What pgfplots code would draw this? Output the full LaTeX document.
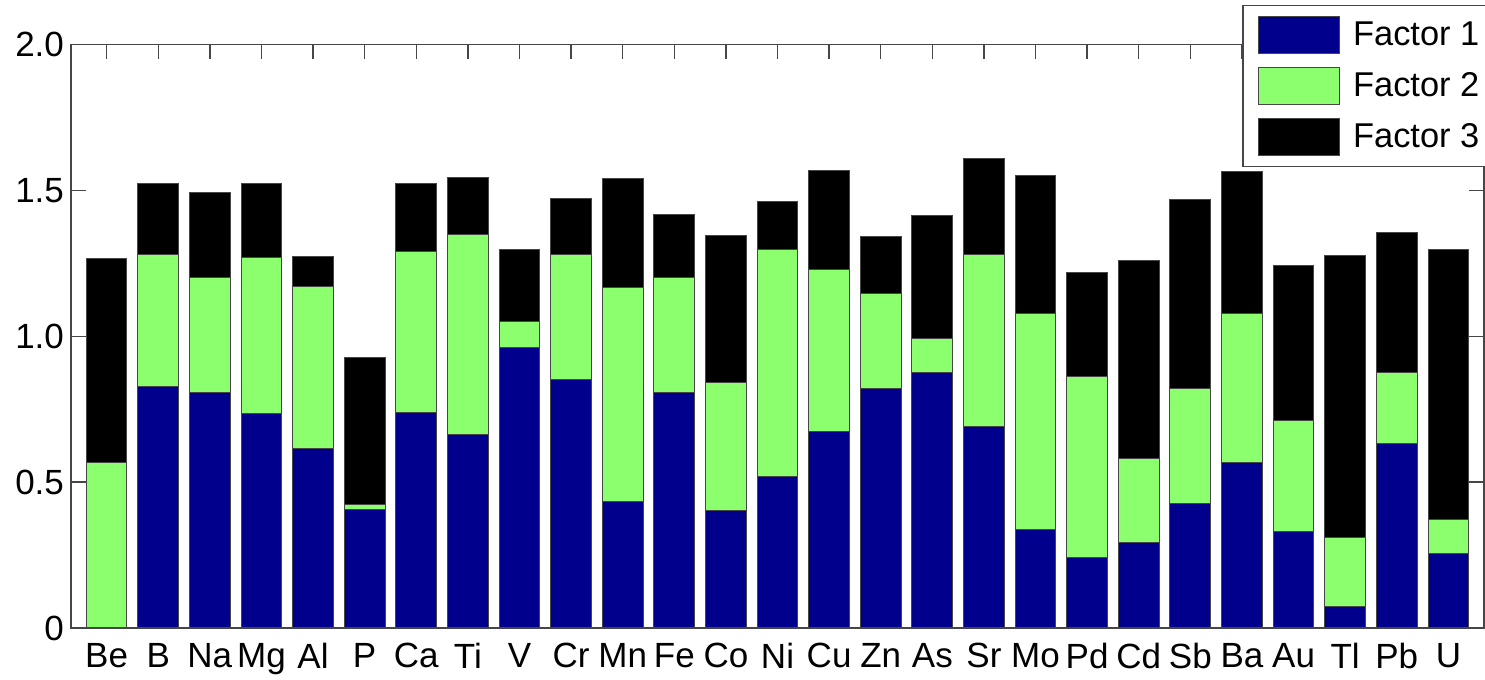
\documentclass[border=0pt]{standalone}
\usepackage{pgfplots}
\pgfplotsset{compat=1.18}
\usepackage{pgfplotstable}
\usepackage{fontspec}
\setmainfont{Liberation Sans}
\definecolor{fone}{RGB}{0,0,140}
\definecolor{ftwo}{RGB}{140,255,110}
\definecolor{axgray}{RGB}{70,70,70}

\pgfplotstableread{
x f1 f2 f3
0 0.000 0.566 0.700
1 0.829 0.450 0.243
2 0.807 0.393 0.292
3 0.734 0.535 0.253
4 0.614 0.555 0.104
5 0.406 0.016 0.504
6 0.740 0.551 0.234
7 0.663 0.685 0.197
8 0.963 0.087 0.249
9 0.852 0.427 0.194
10 0.435 0.733 0.374
11 0.807 0.395 0.217
12 0.404 0.436 0.507
13 0.518 0.780 0.165
14 0.674 0.554 0.340
15 0.821 0.325 0.195
16 0.876 0.115 0.422
17 0.689 0.590 0.329
18 0.338 0.741 0.471
19 0.243 0.620 0.355
20 0.292 0.288 0.678
21 0.428 0.394 0.646
22 0.568 0.511 0.486
23 0.331 0.379 0.532
24 0.075 0.234 0.968
25 0.632 0.244 0.481
26 0.257 0.116 0.926
}\data

\begin{document}
\begin{tikzpicture}
\useasboundingbox (0,0) rectangle (742.5pt,340pt);
\begin{axis}[
  at={(35.5pt,26pt)}, anchor=south west,
  scale only axis, width=706.5pt, height=291.75pt,
  ybar stacked, bar width=0.79,
  xmin=-0.69, xmax=26.69, ymin=0, ymax=2,
  xtick={0,...,26},
  xticklabels={Be,B,Na,Mg,Al,P,Ca,Ti,V,Cr,Mn,Fe,Co,Ni,Cu,Zn,As,Sr,Mo,Pd,Cd,Sb,Ba,Au,Tl,Pb,U},
  ytick={0,0.5,1,1.5,2}, yticklabels={0,0.5,1.0,1.5,2.0},
  tick align=inside, major tick length=7.3pt,
  xtick pos=upper, xticklabel pos=lower, ytick pos=both, yticklabel pos=left,
  axis line style={axgray, line width=0.7pt},
  every tick/.style={axgray, line width=0.7pt},
  xticklabel style={font=\fontsize{17.5}{17.5}\selectfont, yshift=-4pt},
  yticklabel style={font=\fontsize{17.5}{17.5}\selectfont},
  legend style={at={(0.8289,1.0677)}, anchor=north west, draw=axgray, line width=0.7pt, fill=white,
    inner xsep=7.5pt, inner ysep=5pt, row sep=6.5pt, column sep=6.5pt,
    font=\fontsize{17.2}{17.2}\selectfont, nodes={inner sep=0pt}},
  legend cell align=left,
  every axis plot post/.append style={draw=axgray, line width=0.5pt,
    legend image code/.code={\draw[##1, draw=axgray, line width=0.6pt] (0pt,-9.25pt) rectangle (40.5pt,9.25pt);}},
]
\addplot[fill=fone] table[x=x, y=f1] {\data};
\addplot[fill=ftwo] table[x=x, y=f2] {\data};
\addplot[fill=black] table[x=x, y=f3] {\data};
\legend{Factor 1, Factor 2, Factor 3}
\end{axis}
\end{tikzpicture}
\end{document}
